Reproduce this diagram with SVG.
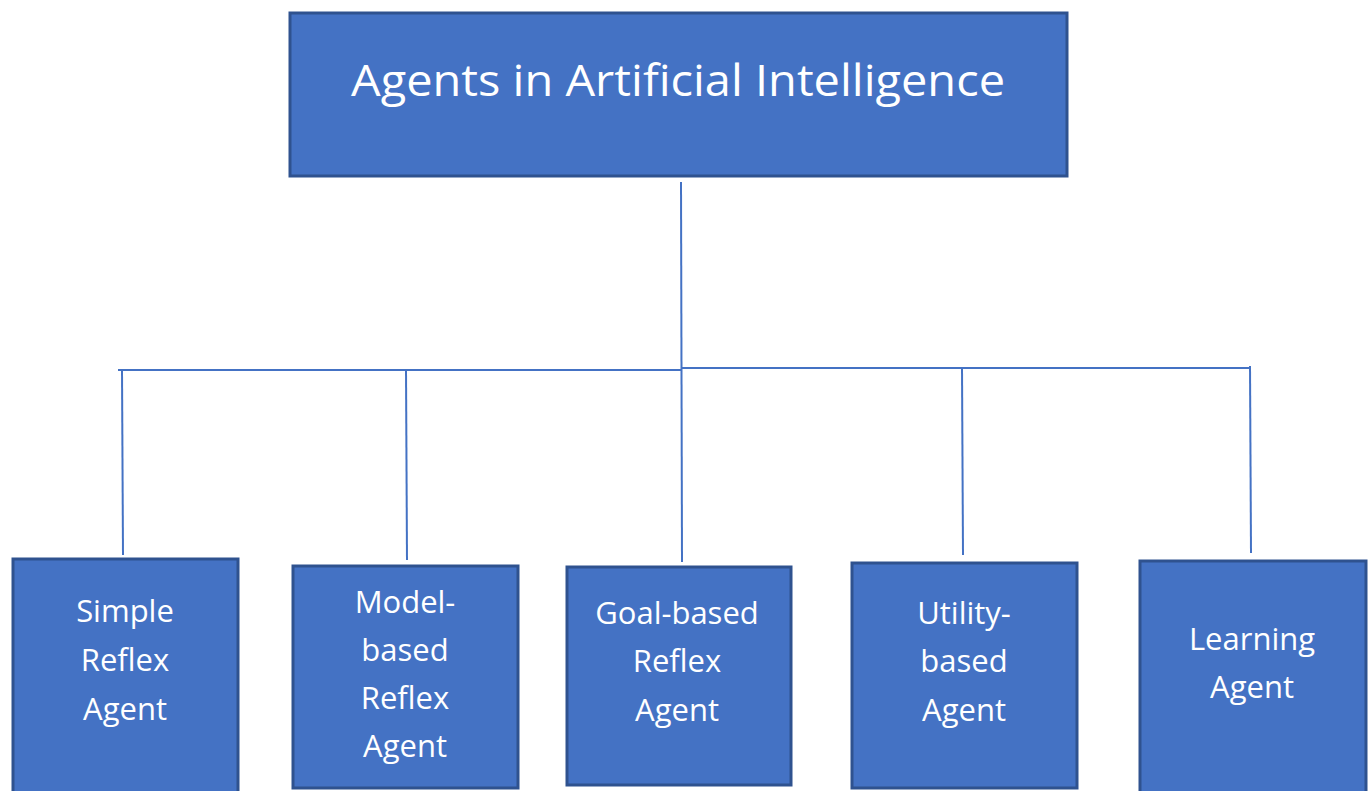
<svg xmlns="http://www.w3.org/2000/svg" width="1372" height="791" viewBox="0 0 1372 791">
<style>
.box{fill:#4472C4;stroke:#2F528F;stroke-width:3}
.lbl{font-family:"Open Sans","Liberation Sans",sans-serif;font-size:31px;fill:#ffffff;text-anchor:middle}
.ttl{font-family:"Open Sans","Liberation Sans",sans-serif;font-size:43px;fill:#ffffff;text-anchor:middle}
.ln{stroke:#4472C4;stroke-width:2;fill:none}
</style>
<rect width="1372" height="791" fill="#ffffff"/>
<g id="connectors">
<line class="ln" x1="681" y1="182" x2="682" y2="562"/>
<line class="ln" x1="118" y1="370" x2="682" y2="370"/>
<line class="ln" x1="682" y1="368" x2="1251" y2="368"/>
<line class="ln" x1="122" y1="370" x2="123" y2="555"/>
<line class="ln" x1="406" y1="370" x2="407" y2="560"/>
<line class="ln" x1="962" y1="368" x2="963" y2="555"/>
<line class="ln" x1="1250" y1="366" x2="1251" y2="553"/>
</g>
<g id="root">
<rect class="box" x="290" y="13" width="777" height="163"/>
<text class="ttl" x="678" y="96" textLength="654" lengthAdjust="spacingAndGlyphs">Agents in Artificial Intelligence</text>
</g>
<g id="simple">
<rect class="box" x="13" y="559" width="225" height="240"/>
<text class="lbl" x="125" y="622">Simple</text>
<text class="lbl" x="125" y="671">Reflex</text>
<text class="lbl" x="125" y="720">Agent</text>
</g>
<g id="model">
<rect class="box" x="293" y="566" width="225" height="222"/>
<text class="lbl" x="405" y="613">Model-</text>
<text class="lbl" x="405" y="661">based</text>
<text class="lbl" x="405" y="709">Reflex</text>
<text class="lbl" x="405" y="757">Agent</text>
</g>
<g id="goal">
<rect class="box" x="567" y="567" width="224" height="218"/>
<text class="lbl" x="677" y="624">Goal-based</text>
<text class="lbl" x="677" y="672">Reflex</text>
<text class="lbl" x="677" y="721">Agent</text>
</g>
<g id="utility">
<rect class="box" x="852" y="563" width="225" height="225"/>
<text class="lbl" x="964" y="624">Utility-</text>
<text class="lbl" x="964" y="672">based</text>
<text class="lbl" x="964" y="721">Agent</text>
</g>
<g id="learning">
<rect class="box" x="1140" y="561" width="226" height="240"/>
<text class="lbl" x="1252" y="650">Learning</text>
<text class="lbl" x="1252" y="698">Agent</text>
</g>
</svg>
